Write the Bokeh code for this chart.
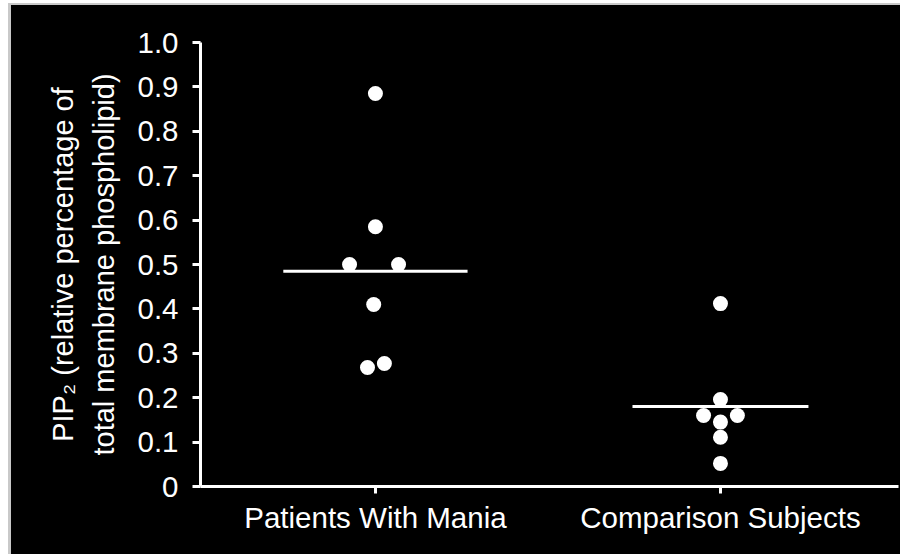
from bokeh.plotting import figure
from bokeh.embed import file_html
from bokeh.resources import INLINE
from bokeh.layouts import column
from bokeh.models import FixedTicker, ColumnDataSource, Range1d

# ---- data ----
groups = ["Patients With Mania", "Comparison Subjects"]
group_pos = [1, 2]

mania_x = [1.0, 1.0, 0.925, 1.067, 0.995, 0.977, 1.026]
mania_y = [0.885, 0.585, 0.50, 0.50, 0.41, 0.268, 0.277]

comp_x = [2.0, 2.0, 1.951, 2.049, 2.0, 2.0, 2.0]
comp_y = [0.412, 0.196, 0.16, 0.16, 0.145, 0.111, 0.052]

group_means = [0.485, 0.18]
mean_half_width = [0.267, 0.255]

y_ticks = [0, 0.1, 0.2, 0.3, 0.4, 0.5, 0.6, 0.7, 0.8, 0.9, 1.0]
y_tick_labels = ["0", "0.1", "0.2", "0.3", "0.4", "0.5", "0.6", "0.7", "0.8", "0.9", "1.0"]

FONT = "Liberation Sans"

p = figure(width=889, height=549, output_backend="svg", toolbar_location=None,
           x_range=Range1d(0.493, 2.516), y_range=Range1d(0, 1.0),
           min_border_left=189, min_border_top=37, min_border_bottom=68, min_border_right=2)
p.background_fill_color = "black"
p.border_fill_color = "black"
p.outline_line_color = None
p.grid.visible = False

# dots
src_m = ColumnDataSource(dict(x=mania_x, y=mania_y))
src_c = ColumnDataSource(dict(x=comp_x, y=comp_y))
p.scatter("x", "y", source=src_m, size=15, fill_color="white", line_color=None)
p.scatter("x", "y", source=src_c, size=15, fill_color="white", line_color=None)

# mean lines
x0 = [g - h for g, h in zip(group_pos, mean_half_width)]
x1 = [g + h for g, h in zip(group_pos, mean_half_width)]
p.segment(x0=x0, y0=group_means, x1=x1, y1=group_means, line_color="white", line_width=3)

# y axis
ya = p.yaxis[0]
ya.ticker = FixedTicker(ticks=y_ticks)
ya.major_label_overrides = {t: l for t, l in zip(y_ticks, y_tick_labels)}
ya.minor_tick_line_color = None
ya.axis_line_color = "white"
ya.axis_line_width = 3
ya.major_tick_line_color = "white"
ya.major_tick_line_width = 3
ya.major_tick_out = 8
ya.major_tick_in = 0
ya.major_label_standoff = 14
ya.major_label_text_color = "white"
ya.major_label_text_font = FONT
ya.major_label_text_font_size = "29.5px"
ya.axis_label = "PIP\u2082 (relative percentage of\ntotal membrane phospholipid)"
ya.axis_label_text_color = "white"
ya.axis_label_text_font = FONT
ya.axis_label_text_font_size = "29px"
ya.axis_label_text_font_style = "normal"
ya.axis_label_text_line_height = 1.3
ya.axis_label_standoff = 14

# x axis
xa = p.xaxis[0]
xa.ticker = FixedTicker(ticks=group_pos)
xa.major_label_overrides = {g: n for g, n in zip(group_pos, groups)}
xa.minor_tick_line_color = None
xa.axis_line_color = "white"
xa.axis_line_width = 3
xa.major_tick_line_color = "white"
xa.major_tick_line_width = 3
xa.major_tick_out = 7
xa.major_tick_in = 0
xa.major_label_standoff = 7
xa.major_label_text_color = "white"
xa.major_label_text_font = FONT
xa.major_label_text_font_size = "29.5px"

layout = column(p, margin=(3, 0, 0, 8),
                styles={"border-top": "2px solid #c9c9c9", "border-left": "3px solid #c9c9c9",
                        "background-color": "black"})

open("out.html", "w").write(file_html(layout, INLINE))
